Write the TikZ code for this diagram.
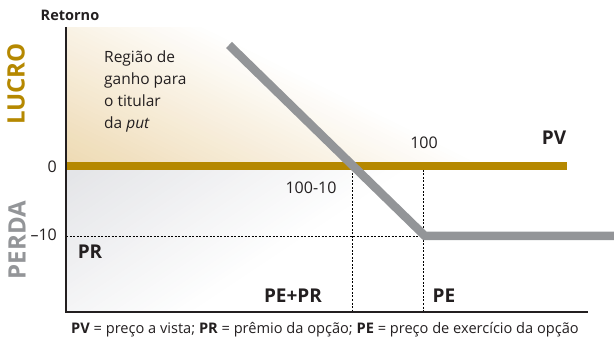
\documentclass[tikz,border=0pt]{standalone}
\usepackage{fontspec}
\setmainfont{Open Sans}
\definecolor{gold}{HTML}{B58800}
\definecolor{tan}{HTML}{EEDAB3}
\definecolor{paygray}{HTML}{939598}
\definecolor{lossgray}{HTML}{E3E4E7}
\definecolor{txt}{HTML}{231F20}
\tikzset{
  lbl/.style={inner sep=0pt, text=txt, font=\fontsize{16}{18}\selectfont},
  blbl/.style={inner sep=0pt, text=txt, font=\fontsize{19}{21}\selectfont\bfseries},
  side/.style={inner sep=0pt, rotate=90, font=\fontsize{24}{26}\selectfont\bfseries},
  guide/.style={black, line width=0.7pt, dash pattern=on 2pt off 1.5pt},
  axis/.style={txt, line width=2.2pt},
}
\begin{document}
\begin{tikzpicture}[x=1pt,y=-1pt]
\useasboundingbox (0,0) rectangle (614,342);
% coordinates
\coordinate (O) at (66,312);
\coordinate (T) at (66,27);
\coordinate (XE) at (588,312);
\coordinate (Z0) at (66,166);
\coordinate (ZE) at (567,166);
\coordinate (M0) at (66,236);
\coordinate (K) at (425,236);
\coordinate (P0) at (229,45);
\coordinate (PE) at (614,236);
\coordinate (C) at (352,166);
\coordinate (CB) at (352,312);
\coordinate (KT) at (423,170);
\coordinate (KB) at (423,312);
% shading: profit region (strips)
\begin{scope}
  \clip (66,28) rectangle (614,166);
  \begin{scope}[shift={(Z0)}, rotate=63.7]
    \fill[tan] (-60,-500) -- (0,-500) -- (0,500) -- (-60,500) -- cycle;
    \foreach \i in {0,...,39}{
      \pgfmathsetmacro{\p}{100-2.5*\i}
      \fill[tan!\p!white] (\i*4.6,-500) -- (\i*4.6+5.2,-500) -- (\i*4.6+5.2,500) -- (\i*4.6,500) -- cycle;
    }
  \end{scope}
\end{scope}
% shading: loss region (strips)
\begin{scope}
  \clip (66,166) rectangle (614,312);
  \begin{scope}[shift={(Z0)}, rotate=-56.3]
    \fill[lossgray] (-60,-500) -- (0,-500) -- (0,500) -- (-60,500) -- cycle;
    \foreach \i in {0,...,39}{
      \pgfmathsetmacro{\p}{100-2.5*\i}
      \fill[lossgray!\p!white] (\i*4.75,-500) -- (\i*4.75+5.3,-500) -- (\i*4.75+5.3,500) -- (\i*4.75,500) -- cycle;
    }
  \end{scope}
\end{scope}
% guides
\draw[guide] (M0) -- (K);
\draw[guide] (C) -- (CB);
\draw[guide] (KT) -- (KB);
% zero line
\draw[gold, line width=8pt] (Z0) -- (ZE);
% payoff
\draw[paygray, line width=8.5pt, line join=miter] (P0) -- (K) -- (PE);
% axes
\draw[axis] (T) -- (O) -- (XE);
% texts
\node[inner sep=0pt, text=txt, font=\fontsize{14.5}{16}\selectfont\bfseries] (ret) at (70,15) {Retorno};
\node[side, text=gold] (lucro) at (16,84) {LUCRO};
\node[side, text=paygray] (perda) at (17,240) {PERDA};
\node[lbl, anchor=east] (zero) at (57,167) {0};
\node[lbl, anchor=east] (m10) at (57,235) {–10};
\node[blbl] (pr) at (90,252) {PR};
\node[blbl] (pepr) at (293,296) {PE+PR};
\node[blbl] (pe) at (444,296) {PE};
\node[lbl] (c9010) at (311,188) {100-10};
\node[lbl] (c100) at (424,143) {100};
\node[blbl] (pv) at (554,138) {PV};
\node[lbl, anchor=north west, align=left, font=\fontsize{15.5}{21.7}\selectfont] (reg) at (104,51) {Região de\\ganho para\\o titular\\da \textit{put}};
\node[inner sep=0pt, text=txt, font=\fontsize{14.6}{16}\selectfont] (cap) at (325,330) {\textbf{PV} = preço a vista; \textbf{PR} = prêmio da opção; \textbf{PE} = preço de exercício da opção};
\end{tikzpicture}
\end{document}
